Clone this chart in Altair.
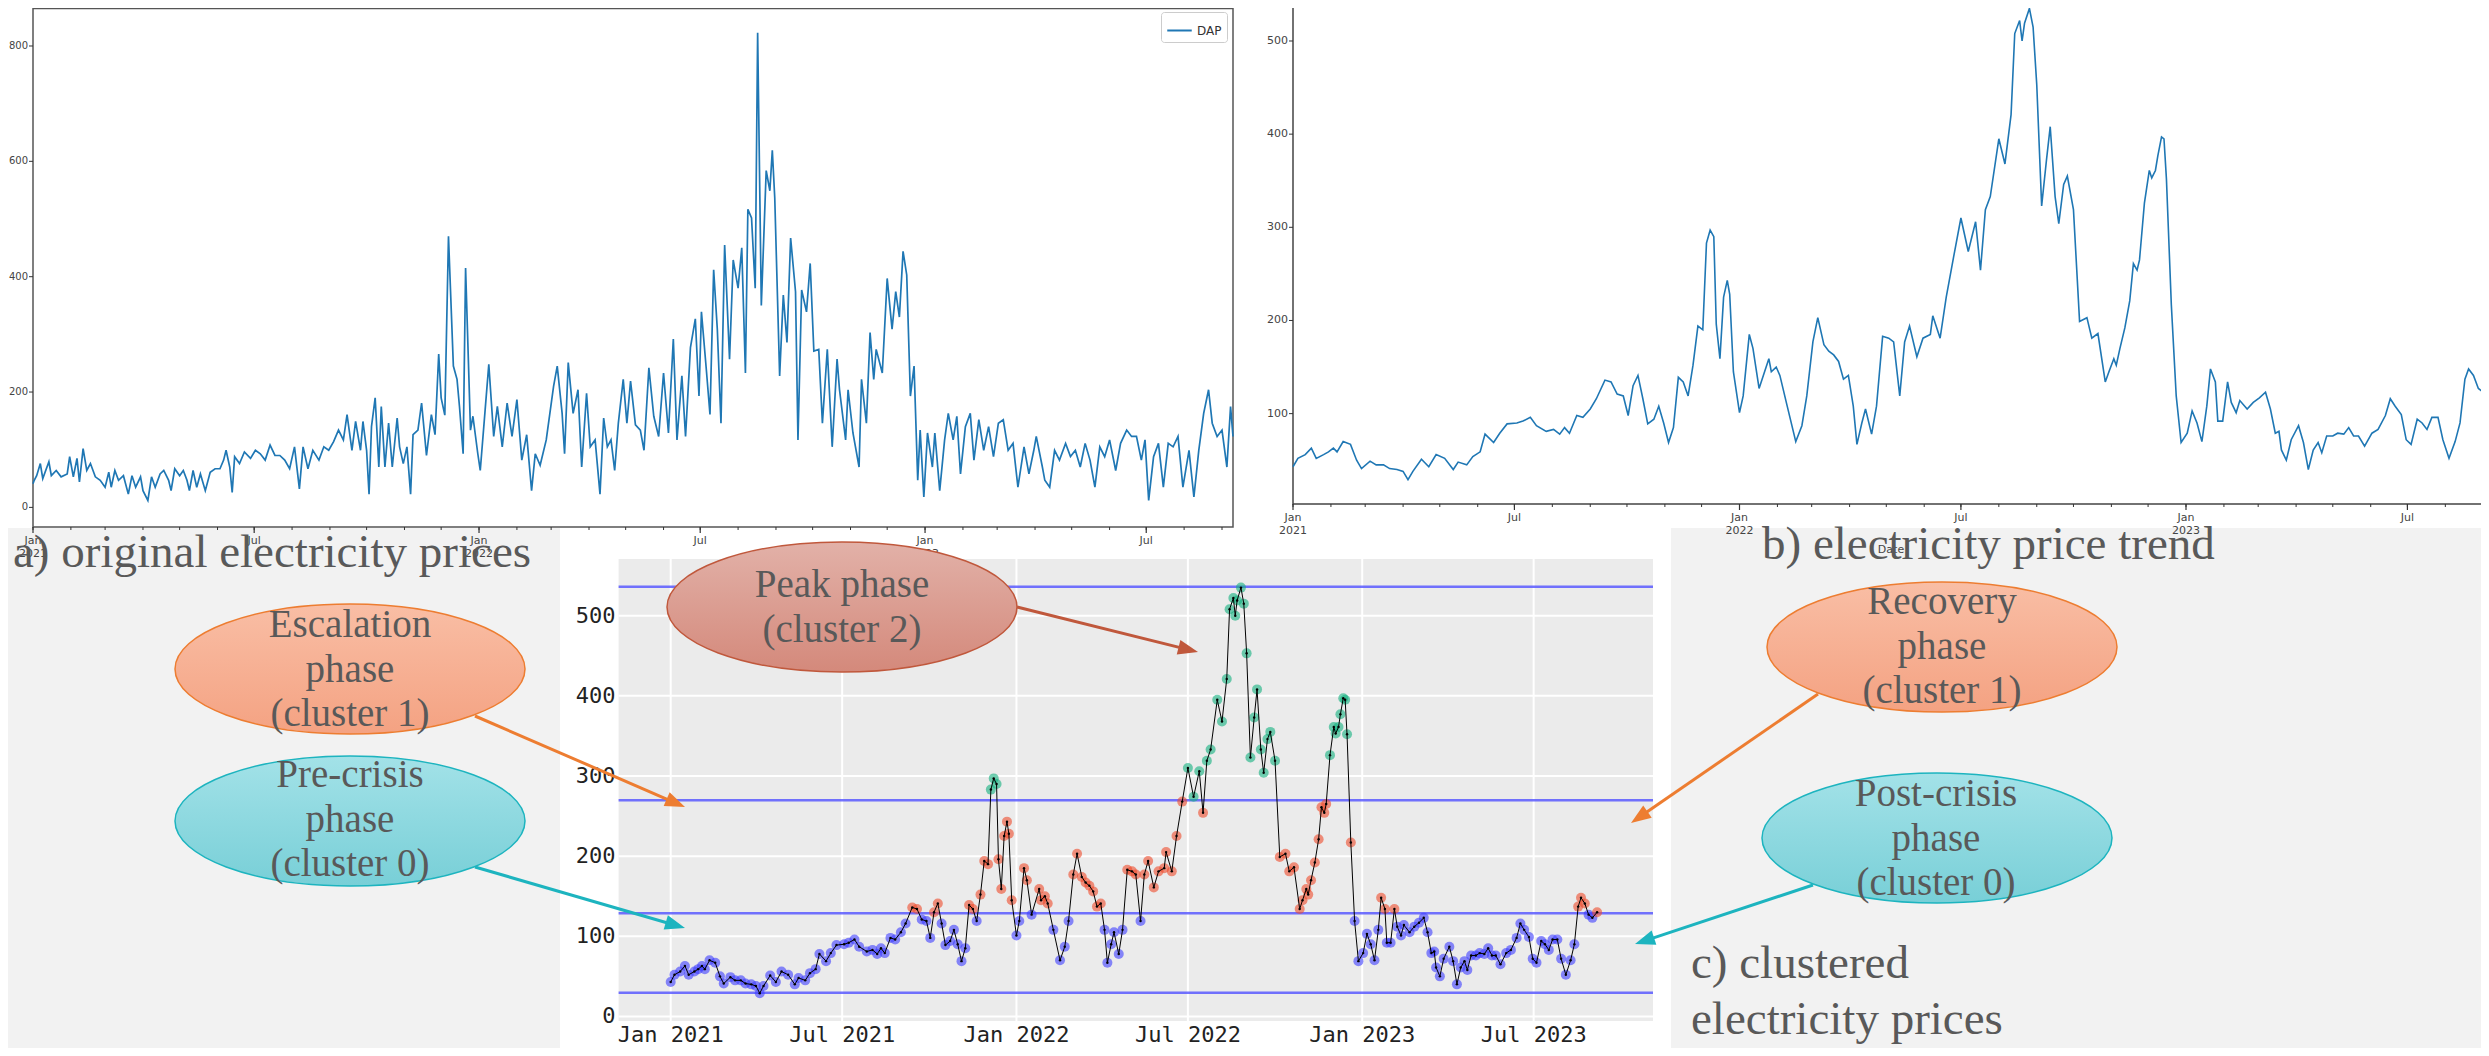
import math
import altair as alt
import numpy as np
import pandas as pd

# ------------------------------------------------------------------ data
# a) daily day-ahead price (DAP); days counted from 2021-01-01
dap_day = [0, 1, 3, 6, 8, 13, 15, 19, 23, 28, 30, 33, 36, 38, 41, 44, 47, 51, 55, 59,
           62, 64, 67, 70, 74, 78, 81, 84, 88, 90, 94, 97, 100, 104, 107, 111, 113, 116, 120, 123,
           126, 128, 131, 134, 137, 141, 145, 149, 153, 156, 158, 161, 163, 165, 169, 173, 178, 182, 186, 190,
           194, 198, 202, 206, 210, 214, 218, 221, 225, 229, 234, 238, 242, 246, 250, 254, 257, 261, 264, 268,
           270, 273, 275, 277, 280, 283, 285, 288, 291, 294, 298, 300, 303, 306, 309, 311, 315, 318, 322, 326,
           329, 332, 334, 337, 340,
           344, 347, 349, 352, 354, 358, 360, 364, 366, 370, 373, 377, 380, 384, 388, 392, 396, 400, 404, 408,
           411, 415, 420, 426, 429, 433, 435, 438, 442, 446, 449, 453, 456, 460, 464, 467, 470, 473, 476, 479,
           483, 486, 489, 493, 497, 500, 504, 508, 512, 516, 520, 524, 527, 531, 534, 538, 542, 545, 547, 551,
           554, 557, 560, 563, 566, 570, 573, 577, 580, 583, 585, 588, 591, 593, 596, 600, 603, 605, 607, 611,
           614, 617, 620, 624, 626, 629, 633, 636, 639, 643, 646, 650, 654, 658,
           660, 665, 667, 671, 676, 678, 682, 685, 688, 690, 695, 699, 703, 706, 709, 712, 715, 718, 721, 724,
           726, 729, 732, 736, 738, 742, 746, 749, 753, 756, 759, 763, 767, 770, 774, 778, 782, 786, 790, 794,
           798, 802, 806, 811, 815, 819, 821, 826, 828, 832, 836, 840, 845, 849, 853, 857, 861, 865, 869, 873,
           877, 881, 886, 890, 895, 899, 903, 907, 910, 913, 917, 921, 925, 929, 933, 937, 941, 946, 950, 954,
           958, 962, 965, 969, 973, 977, 980, 982]
dap_price = [41, 47, 55, 76, 50, 79, 55, 64, 53, 58, 88, 53, 85, 44, 102, 64, 76, 53, 47, 35,
             61, 35, 64, 47, 55, 23, 55, 35, 53, 29, 12, 53, 35, 58, 64, 47, 29, 67, 55, 64,
             47, 29, 64, 35, 58, 29, 61, 67, 67, 82, 99, 70, 26, 88, 76, 96, 85, 99, 93, 82,
             108, 90, 90, 82, 67, 105, 32, 105, 67, 99, 82, 105, 99, 114, 134, 117, 161, 99, 149, 99,
             149, 99, 23, 140, 190, 70, 175, 70, 146, 70, 155, 105, 76, 105, 23, 126, 134, 181, 90, 161,
             126, 266, 190, 160, 470,
             245, 222, 175, 93, 415, 134, 158, 93, 64, 169, 248, 123, 175, 105, 181, 123, 187, 82, 126, 29,
             93, 73, 117, 210, 245, 163, 93, 251, 163, 204, 70, 198, 105, 117, 23, 155, 105, 117, 64, 146,
             222, 146, 219, 143, 134, 99, 242, 158, 123, 233, 129, 292, 117, 228, 123, 277, 327, 193, 339, 239,
             161, 412, 309, 146, 455, 257, 429, 380, 450, 233, 517, 502, 380, 823, 350, 584, 549, 619, 537, 228,
             368, 286, 467, 374, 117, 377, 339, 423, 271, 274, 146, 274, 105, 257,
             204, 117, 204, 129, 70, 222, 146, 303, 222, 274, 233, 397, 309, 374, 330, 444, 403, 193, 245, 47,
             134, 18, 129, 70, 129, 29, 117, 163, 117, 158, 58, 140, 163, 82, 152, 99, 140, 88, 146, 152,
             99, 111, 35, 105, 58, 99, 123, 70, 47, 35, 99, 82, 111, 88, 99, 70, 111, 82, 35, 105,
             88, 117, 64, 111, 134, 123, 123, 82, 117, 12, 88, 111, 35, 111, 105, 123, 35, 99, 18, 99,
             163, 204, 146, 123, 134, 70, 175, 123]

# b) / c) smoothed price trend
trend_day = [0, 4, 10, 15, 19, 25, 29, 33, 36, 41, 47, 52, 56, 63, 68, 74, 79, 85, 90, 94,
             98, 105, 111, 117, 124, 131, 135, 142, 147, 153, 157, 164, 169, 175, 183, 188, 194, 199, 207, 213,
             218, 222, 226, 232, 237, 243, 248, 255, 260, 265, 270, 274, 278, 282, 286, 290, 295, 299, 303, 307,
             311, 315, 319, 323, 327, 331,
             335, 338, 341, 344, 346, 349, 352, 355, 357, 360, 365, 368, 373, 376, 381, 389, 391, 395, 398, 404,
             411, 416, 420, 425, 429, 434, 438, 442, 446, 450, 454, 458, 461, 465, 468, 473, 477, 482, 487, 491,
             496, 500, 504, 510, 515, 521, 523, 529, 534, 540, 546, 552, 558, 562, 566, 570, 577, 582, 587, 590,
             594, 596, 598, 602, 605, 608, 612, 616, 619, 623, 626, 630, 633, 638, 643, 649, 653, 658, 664,
             667, 671, 673, 676, 680, 684, 687, 690, 692, 696, 700, 702, 705, 707, 710, 712, 714, 718, 722, 726,
             731, 735, 739, 743, 747, 750, 754, 756, 760, 764, 767, 771, 774, 780, 785, 790, 795, 799, 803, 806,
             808, 812, 816, 822, 826, 830, 834, 838, 841, 845, 850, 854, 859, 863, 867, 871, 876, 882, 887, 893,
             897, 901, 906, 910, 914, 919, 923, 927, 931, 936, 940, 945, 950, 954, 958, 961, 965, 969, 973, 978]
trend_price = [43, 52, 56, 63, 52, 56, 59, 63, 59, 70, 67, 50, 41, 49, 45, 45, 41, 40, 38, 29,
               38, 51, 43, 56, 52, 40, 48, 45, 54, 59, 78, 69, 79, 89, 90, 92, 96, 87, 81, 83,
               78, 85, 79, 98, 96, 105, 116, 136, 134, 121, 119, 98, 130, 141, 116, 89, 94, 108, 90, 69,
               85, 139, 134, 119, 152, 194,
               190, 283, 297, 290, 196, 159, 225, 243, 228, 145, 101, 119, 185, 170, 127, 159, 145, 150, 141, 108,
               70, 87, 119, 177, 203, 174, 167, 163, 156, 137, 141, 108, 67, 90, 105, 78, 108, 183, 181, 177,
               119, 177, 194, 161, 181, 185, 205, 181, 225, 268, 310, 274, 306, 254, 319, 333, 395, 368, 421, 508,
               522, 500, 519, 535, 515, 453, 323, 373, 408, 333, 304, 346, 355, 319, 199, 203, 181, 186, 134,
               145, 159, 152, 170, 192, 221, 261, 254, 265, 326, 361, 353, 361, 377, 397, 395, 352, 217, 119, 69,
               79, 103, 90, 70, 108, 148, 134, 92, 92, 134, 112, 101, 114, 105, 112, 117, 123, 105, 79, 81,
               61, 50, 72, 87, 69, 40, 61, 69, 58, 76, 76, 79, 78, 85, 76, 76, 65, 79, 83, 98,
               116, 108, 99, 72, 67, 94, 90, 83, 96, 96, 72, 52, 70, 90, 137, 148, 141, 127, 123, 130]

cluster_bounds = [29.4, 128.8, 269.6, 536.0]        # min, 0|1, 1|2, max
cluster_names = ["cluster 0", "cluster 1", "cluster 2"]
cluster_colors = ["#3d3dff", "#ee4b2b", "#12b07e"]

# tick values / labels
a_yticks = [0, 200, 400, 600, 800]
b_yticks = [100, 200, 300, 400, 500]
c_yticks = [0, 100, 200, 300, 400, 500]
half_years = ["2021-01-01", "2021-07-01", "2022-01-01", "2022-07-01", "2023-01-01", "2023-07-01"]
half_month_lbl = ["Jan", "Jul", "Jan", "Jul", "Jan", "Jul"]
half_year_lbl = ["2021", "", "2022", "", "2023", ""]

# ------------------------------------------------------------------ helpers
W, H = 2473, 1040
OFF = 8                      # page margin: page px -> chart px


def P(v):
    return v - OFF


START = pd.Timestamp("2021-01-01")


def day2ts(d):
    return START + pd.Timedelta(days=d)


def dt(ts):
    ts = pd.Timestamp(ts)
    return alt.DateTime(year=ts.year, month=ts.month, date=ts.day)


dap = pd.DataFrame({"date": [day2ts(d) for d in dap_day], "price": dap_price, "series": "DAP"})
trend = pd.DataFrame({"date": [day2ts(d) for d in trend_day], "price": trend_price})
trend["cluster"] = np.select(
    [trend["price"] >= cluster_bounds[2], trend["price"] >= cluster_bounds[1]],
    [cluster_names[2], cluster_names[1]], default=cluster_names[0])

xa_dom, ya_dom = [0, 982], [-34, 865]
xb_dom, yb_dom = [0, 978], [3, 544]
xc_dom, yc_dom = [-55, 1037], [-5.7, 570.7]

px_per_day = 446.5 / 365.0
xs_a = alt.Scale(domain=[dt(day2ts(xa_dom[0])), dt(day2ts(xa_dom[1]))], range=[P(33), P(1233)], nice=False)
ys_a = alt.Scale(domain=ya_dom, range=[P(527), P(8.5)], nice=False, zero=False)
xs_b = alt.Scale(domain=[dt(day2ts(xb_dom[0])), dt(day2ts(xb_dom[1]))],
                 range=[P(1293), P(1293 + xb_dom[1] * px_per_day)], nice=False)
ys_b = alt.Scale(domain=yb_dom, range=[P(504), P(0)], nice=False, zero=False)
xs_c = alt.Scale(domain=[dt(day2ts(xc_dom[0])), dt(day2ts(xc_dom[1]))], range=[P(618.6), P(1653)], nice=False)
ys_c = alt.Scale(domain=yc_dom, range=[P(1021), P(559)], nice=False, zero=False)

month_ts = pd.date_range("2021-01-01", "2023-09-01", freq="MS")
months_df = pd.DataFrame({"d": month_ts})
half_df = pd.DataFrame({"d": pd.to_datetime(half_years), "m": half_month_lbl, "y": half_year_lbl})

AXF = "DejaVu Sans"
AXC = "#444444"


def frame_df(xdom, ydom):
    return pd.DataFrame({"x0": [day2ts(xdom[0])], "x1": [day2ts(xdom[1])], "y0": [ydom[0]], "y1": [ydom[1]]})


def mpl_guides(xs, ys, axis_x, axis_y, yticks, title_x, title_y, ysize=11):
    """matplotlib-like ticks / labels drawn through the panel scales."""
    minor = alt.Chart(months_df).mark_rule(color="#333333", strokeWidth=1).encode(
        x=alt.X("d:T", scale=xs, axis=None), y=alt.value(P(axis_y)), y2=alt.value(P(axis_y) + 3))
    major = alt.Chart(half_df).mark_rule(color="#333333", strokeWidth=1.2).encode(
        x=alt.X("d:T", scale=xs, axis=None), y=alt.value(P(axis_y)), y2=alt.value(P(axis_y) + 6))
    mlab = alt.Chart(half_df).mark_text(font=AXF, fontSize=11, color=AXC, baseline="top").encode(
        x=alt.X("d:T", scale=xs, axis=None), y=alt.value(P(axis_y) + 8), text="m:N")
    ylab = alt.Chart(half_df).mark_text(font=AXF, fontSize=11, color=AXC, baseline="top").encode(
        x=alt.X("d:T", scale=xs, axis=None), y=alt.value(P(axis_y) + 21), text="y:N")
    ydf = pd.DataFrame({"v": yticks})
    ytk = alt.Chart(ydf).mark_rule(color="#333333", strokeWidth=1).encode(
        y=alt.Y("v:Q", scale=ys, axis=None), x=alt.value(P(axis_x) - 4), x2=alt.value(P(axis_x)))
    ytl = alt.Chart(ydf).mark_text(font=AXF, fontSize=ysize, color=AXC, align="right", baseline="middle").encode(
        y=alt.Y("v:Q", scale=ys, axis=None), x=alt.value(P(axis_x) - 5), text="v:Q")
    ttl = alt.Chart(pd.DataFrame({"t": ["Date"]})).mark_text(
        font=AXF, fontSize=11, color=AXC, align="center", baseline="middle").encode(
        x=alt.value(P(title_x)), y=alt.value(P(title_y)), text="t:N")
    return [minor, major, mlab, ylab, ytk, ytl, ttl]


one = pd.DataFrame({"k": [0]})


def box(x0, y0, x1, y1, color):
    return alt.Chart(one).mark_rect(color=color).encode(
        x=alt.value(P(x0)), x2=alt.value(P(x1)), y=alt.value(P(y0)), y2=alt.value(P(y1)))


# ------------------------------------------------------------------ panel a
a_frame = alt.Chart(frame_df(xa_dom, ya_dom)).mark_rect(fillOpacity=0, stroke="#555555", strokeWidth=1.5).encode(
    x=alt.X("x0:T", scale=xs_a, axis=None), x2="x1:T",
    y=alt.Y("y0:Q", scale=ys_a, axis=None), y2="y1:Q")
a_line = alt.Chart(dap).mark_line(strokeWidth=1.7).encode(
    x=alt.X("date:T", scale=xs_a, axis=None),
    y=alt.Y("price:Q", scale=ys_a, axis=None),
    color=alt.Color("series:N", scale=alt.Scale(domain=["DAP"], range=["#1f77b4"]),
                    legend=alt.Legend(orient="none", legendX=P(1161), legendY=P(12), title=None,
                                      symbolType="stroke", symbolStrokeWidth=2, symbolSize=600,
                                      labelFont=AXF, labelFontSize=12, labelColor="#333333",
                                      fillColor="white", strokeColor="#cccccc", padding=5, cornerRadius=3)))
panel_a = alt.layer(a_frame, a_line, *mpl_guides(xs_a, ys_a, 33, 527, a_yticks, 633, 571, ysize=10))

# ------------------------------------------------------------------ panel b
b_frame = alt.Chart(frame_df(xb_dom, yb_dom)).mark_rect(fillOpacity=0, stroke="#444444", strokeWidth=1.5).encode(
    x=alt.X("x0:T", scale=xs_b, axis=None), x2="x1:T",
    y=alt.Y("y0:Q", scale=ys_b, axis=None), y2="y1:Q")
b_line = alt.Chart(trend).mark_line(strokeWidth=1.6, color="#1f77b4").encode(
    x=alt.X("date:T", scale=xs_b, axis=None),
    y=alt.Y("price:Q", scale=ys_b, axis=None))
panel_b = alt.layer(b_frame, b_line, *mpl_guides(xs_b, ys_b, 1293, 504, b_yticks, 1891, 550))

# ------------------------------------------------------------------ panel c
MONO = "DejaVu Sans Mono"
c_bg = alt.Chart(frame_df(xc_dom, yc_dom)).mark_rect(color="#ebebeb").encode(
    x=alt.X("x0:T", scale=xs_c, axis=None), x2="x1:T",
    y=alt.Y("y0:Q", scale=ys_c, axis=None), y2="y1:Q")
vgrid = pd.DataFrame({"d": pd.to_datetime(half_years), "y0": yc_dom[0], "y1": yc_dom[1]})
c_vgrid = alt.Chart(vgrid).mark_rule(color="white", strokeWidth=2).encode(
    x=alt.X("d:T", scale=xs_c, axis=None), y=alt.Y("y0:Q", scale=ys_c, axis=None), y2="y1:Q")
hgrid = pd.DataFrame({"v": c_yticks, "x0": day2ts(xc_dom[0]), "x1": day2ts(xc_dom[1])})
c_hgrid = alt.Chart(hgrid).mark_rule(color="white", strokeWidth=2).encode(
    x=alt.X("x0:T", scale=xs_c, axis=None), x2="x1:T", y=alt.Y("v:Q", scale=ys_c, axis=None))
c_xlab = alt.Chart(vgrid).mark_text(font=MONO, fontSize=22, color="#222222", baseline="middle").encode(
    x=alt.X("d:T", scale=xs_c, axis=None), y=alt.value(P(1035)), text=alt.Text("d:T", format="%b %Y"))
c_ylab = alt.Chart(hgrid).mark_text(font=MONO, fontSize=22, color="#222222", align="right",
                                    baseline="middle").encode(
    y=alt.Y("v:Q", scale=ys_c, axis=None), x=alt.value(P(615.5)), text="v:Q")
bounds = pd.DataFrame({"v": cluster_bounds, "x0": day2ts(xc_dom[0]), "x1": day2ts(xc_dom[1])})
c_bounds = alt.Chart(bounds).mark_rule(color="#5a5aff", strokeWidth=2.5, opacity=0.85).encode(
    x=alt.X("x0:T", scale=xs_c, axis=None), x2="x1:T", y=alt.Y("v:Q", scale=ys_c, axis=None))
c_pts = alt.Chart(trend).mark_circle(size=100, opacity=0.6).encode(
    x=alt.X("date:T", scale=xs_c, axis=None),
    y=alt.Y("price:Q", scale=ys_c, axis=None),
    color=alt.Color("cluster:N", scale=alt.Scale(domain=cluster_names, range=cluster_colors), legend=None))
c_line = alt.Chart(trend).mark_line(color="black", strokeWidth=1).encode(
    x=alt.X("date:T", scale=xs_c, axis=None), y=alt.Y("price:Q", scale=ys_c, axis=None))
c_dots = alt.Chart(trend).mark_circle(color="black", size=6, opacity=1).encode(
    x=alt.X("date:T", scale=xs_c, axis=None), y=alt.Y("price:Q", scale=ys_c, axis=None))
panel_c = alt.layer(c_bg, c_vgrid, c_hgrid, c_xlab, c_ylab, c_bounds, c_pts, c_line, c_dots)

# ------------------------------------------------------------------ annotations
ELLIPSE = "M -1 0 A 1 0.3714 0 1 1 1 0 A 1 0.3714 0 1 1 -1 0 Z"
HEAD = "M 0 -1 L 0.75 1 L -0.75 1 Z"
TXT = "#595959"
SERIF = "Liberation Serif"


def ellipse(cx, cy, top, bottom, stroke):
    grad = alt.LinearGradient(gradient="linear",
                              stops=[alt.GradientStop(color=top, offset=0),
                                     alt.GradientStop(color=bottom, offset=1)],
                              x1=0, x2=0, y1=0, y2=1)
    return alt.Chart(one).mark_point(shape=ELLIPSE, size=350 ** 2, filled=True, fill=grad, stroke=stroke,
                                     strokeWidth=1.5, opacity=1, fillOpacity=1).encode(
        x=alt.value(P(cx)), y=alt.value(P(cy)))


def ell_text(cx, first_baseline, lines):
    return alt.Chart(one).mark_text(text=lines, font=SERIF, fontSize=39, lineHeight=44.5, color=TXT,
                                    align="center", baseline="alphabetic").encode(
        x=alt.value(P(cx)), y=alt.value(P(first_baseline)))


def arrow(x0, y0, x1, y1, color, r=10):
    dx, dy = x1 - x0, y1 - y0
    ln = math.hypot(dx, dy)
    ux, uy = dx / ln, dy / ln
    ang = math.degrees(math.atan2(dx, -dy)) % 360
    cx, cy = x1 - ux * r, y1 - uy * r
    line = alt.Chart(one).mark_rule(color=color, strokeWidth=3).encode(
        x=alt.value(P(x0)), y=alt.value(P(y0)), x2=alt.value(P(cx)), y2=alt.value(P(cy)))
    head = alt.Chart(one).mark_point(shape=HEAD, size=(2 * r) ** 2, angle=ang, filled=True, fill=color,
                                     strokeOpacity=0, opacity=1).encode(x=alt.value(P(cx)), y=alt.value(P(cy)))
    return [line, head]


def caption(x, y, txt):
    return alt.Chart(one).mark_text(text=txt, font=SERIF, fontSize=47, color=TXT, align="left",
                                    baseline="alphabetic").encode(x=alt.value(P(x)), y=alt.value(P(y)))


ORANGE, TEAL, BROWN = "#ED7D31", "#1DB4BF", "#C0583C"
SAL_T, SAL_B = "#F9BEA5", "#F4A282"
TEAL_T, TEAL_B = "#A3E2E8", "#78CFD7"
PEAK_T, PEAK_B = "#E2B1A8", "#D4897B"

decor = []
decor += arrow(475, 716, 685, 807, ORANGE)
decor += arrow(475, 867, 685, 928, TEAL)
decor += arrow(1017, 607, 1198, 652, BROWN)
decor += arrow(1818, 694, 1631, 823, ORANGE)
decor += arrow(1813, 885, 1635, 944, TEAL)
decor += [
    ellipse(350, 669, SAL_T, SAL_B, ORANGE),
    ellipse(350, 821, TEAL_T, TEAL_B, TEAL),
    ellipse(842, 607, PEAK_T, PEAK_B, BROWN),
    ellipse(1942, 647, SAL_T, SAL_B, ORANGE),
    ellipse(1937, 838, TEAL_T, TEAL_B, TEAL),
    ell_text(350, 637, ["Escalation", "phase", "(cluster 1)"]),
    ell_text(350, 787, ["Pre-crisis", "phase", "(cluster 0)"]),
    ell_text(842, 597, ["Peak phase", "(cluster 2)"]),
    ell_text(1942, 614, ["Recovery", "phase", "(cluster 1)"]),
    ell_text(1936, 806, ["Post-crisis", "phase", "(cluster 0)"]),
    caption(13, 567, "a) original electricity prices"),
    caption(1762, 559, "b) electricity price trend"),
    caption(1691, 978, "c) clustered"),
    caption(1691, 1034, "electricity prices"),
]

backgrounds = [
    box(0, 0, 1252, 528, "white"),
    box(1252, 0, 2489, 528, "white"),
    box(560, 528, 1671, 1056, "white"),
]

chart = alt.layer(*backgrounds, panel_a, panel_b, panel_c, *decor).resolve_scale(
    x="independent", y="independent", color="independent"
).properties(
    width=W, height=H, padding=0, background="#f2f2f2",
    autosize=alt.AutoSizeParams(type="none"),
).configure_view(stroke="transparent")

chart.save("out.html", embed_options={"renderer": "svg", "actions": False})
